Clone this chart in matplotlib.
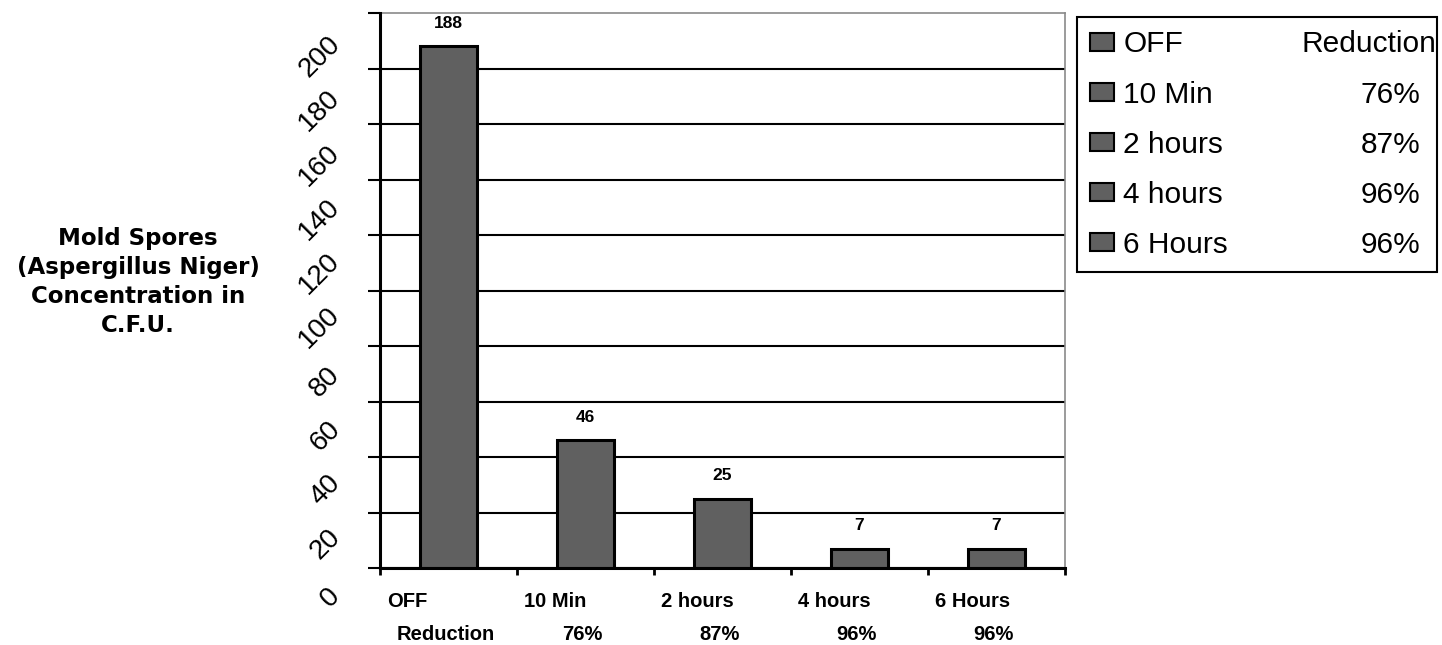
import matplotlib
matplotlib.use("Agg")
import matplotlib.pyplot as plt
from matplotlib.patches import Patch
import numpy as np

# ---- data ----
categories = ["OFF", "10 Min", "2 hours", "4 hours", "6 Hours"]
reductions = ["Reduction", "76%", "87%", "96%", "96%"]
values = [188, 46, 25, 7, 7]
yticks = list(range(0, 201, 20))
ylabel_lines = ["Mold Spores", "(Aspergillus Niger)", "Concentration in", "C.F.U."]

BAR = "#606060"
W, H, DPI = 1442, 645, 100
fig = plt.figure(figsize=(W / DPI, H / DPI), dpi=DPI)
fig.patch.set_facecolor("white")

def fx(px):
    return px / W

def fy(py):
    return 1 - py / H

# main axes
ax = fig.add_axes([fx(380), fy(568), fx(1065) - fx(380), fy(13) - fy(568)])
x = np.arange(len(categories))
ax.bar(x, values, width=0.41, color=BAR, edgecolor="black", linewidth=2.2, zorder=3)
ax.set_xlim(-0.5, len(categories) - 0.5)
ax.set_ylim(0, 200)
ax.set_yticks(yticks)
ax.set_yticklabels([])
ax.tick_params(axis="y", direction="out", length=9, width=1.5, color="black")
ax.set_xticks([])
ax.set_xticks(np.arange(-0.5, len(categories)), minor=True)
ax.tick_params(axis="x", which="minor", direction="out", length=5, width=2, color="black")
ax.grid(axis="y", color="black", linewidth=1.5, zorder=1)
ax.yaxis.get_gridlines()[-1].set_visible(False)
for s in ("left", "bottom"):
    ax.spines[s].set_linewidth(2.2)
    ax.spines[s].set_color("black")
    ax.spines[s].set_zorder(4)
for s in ("top", "right"):
    ax.spines[s].set_linewidth(1.2)
    ax.spines[s].set_color("#8a8a8a")

# value labels
for xi, v in zip(x, values):
    ax.annotate(str(v), xy=(xi, v), xytext=(0, 11), textcoords="offset points",
                ha="center", va="bottom", fontsize=12.5, fontweight="bold",
                family="Liberation Sans")

# category labels (two lines)
for xi, c, r in zip(x, categories, reductions):
    ax.annotate(c, xy=(xi - 0.45, 0), xycoords=("data", "axes fraction"),
                xytext=(0, -24), textcoords="offset points", ha="left", va="center",
                fontsize=14.5, fontweight="bold", family="Liberation Sans")
    ax.annotate(r, xy=(xi - 0.02, 0), xycoords=("data", "axes fraction"),
                xytext=(0, -48), textcoords="offset points", ha="center", va="center",
                fontsize=14.5, fontweight="bold", family="Liberation Sans")

# y tick labels on an offset scale (as in the original)
lab = fig.add_axes([fx(380), fy(598), 0.0005, fy(57) - fy(598)])
lab.set_ylim(0, 200)
lab.set_yticks(yticks)
lab.set_yticklabels([str(t) for t in yticks], family="Liberation Sans", fontsize=20)
lab.tick_params(axis="y", length=0, pad=25, labelrotation=45)
for t in lab.get_yticklabels():
    t.set_va("center")
    t.set_ha("right")
lab.set_xticks([])
lab.patch.set_visible(False)
for s in lab.spines.values():
    s.set_visible(False)

# y-axis title
fig.text(fx(138), fy(282), "\n".join(ylabel_lines), ha="center", va="center",
         multialignment="center", fontsize=16.5, fontweight="bold",
         family="DejaVu Sans", linespacing=1.33)

# legend
handles = [Patch(facecolor=BAR, edgecolor="black", linewidth=1.5) for _ in categories]
leg = fig.legend(handles, categories, loc="upper left",
                 bbox_to_anchor=(fx(1077), fy(265), fx(1437) - fx(1077), fy(17) - fy(265)),
                 bbox_transform=fig.transFigure, mode="expand", ncol=1,
                 prop={"family": "Liberation Sans", "size": 21.5},
                 handlelength=0.8, handleheight=0.55, handletextpad=0.3,
                 labelspacing=0.74, borderpad=0.45, borderaxespad=0,
                 fancybox=False, framealpha=1, edgecolor="black")
leg.get_frame().set_linewidth(1.5)
leg.set_zorder(5)

fig.canvas.draw()
for i, t in enumerate(leg.get_texts()):
    bb = t.get_window_extent()
    yc = (bb.y0 + bb.y1) / 2 / fig.bbox.height
    xr = fx(1436) if i == 0 else fx(1420)
    fig.text(xr, yc, reductions[i], ha="right", va="center",
             family="Liberation Sans", fontsize=21.5, zorder=10)

fig.savefig("out.png", dpi=DPI, facecolor="white")
